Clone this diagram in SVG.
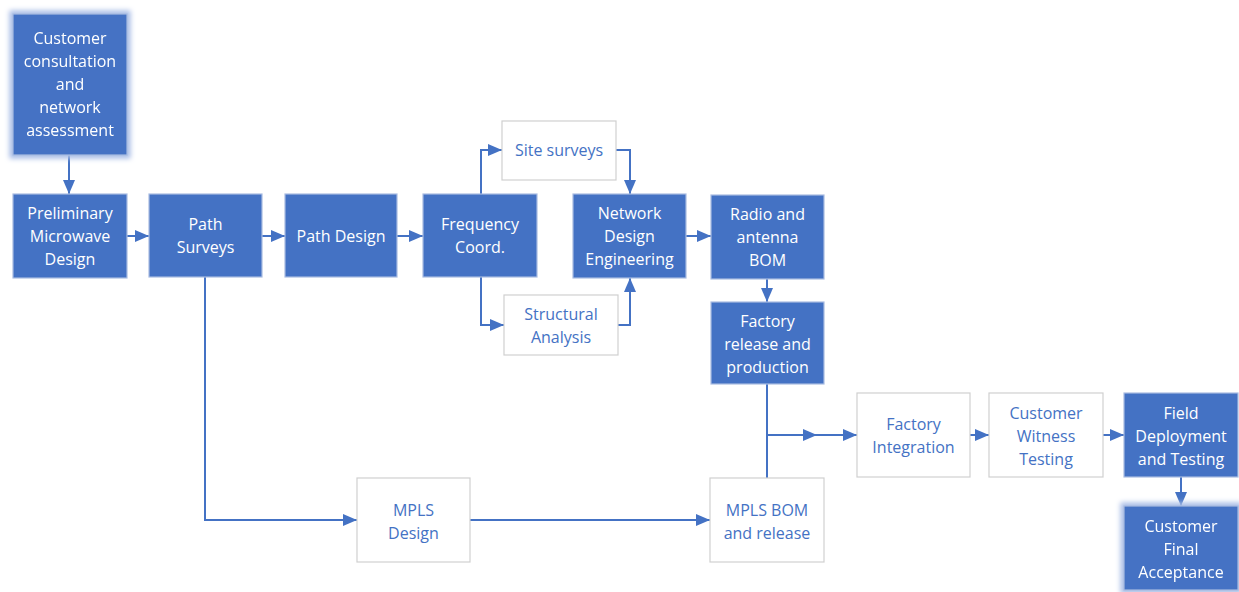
<svg xmlns="http://www.w3.org/2000/svg" width="1239" height="592" viewBox="0 0 1239 592">
<style>
.b{fill:#4472C4;stroke:#A9BCE2;stroke-width:1.2}
.w{fill:#FFFFFF;stroke:#D0D0D0;stroke-width:1.2}
.tb{fill:#FFFFFF;font-family:"Open Sans","Noto Sans",sans-serif;font-size:16px;text-anchor:middle;dominant-baseline:central}
.tw{fill:#4472C4;font-family:"Open Sans","Noto Sans",sans-serif;font-size:16px;text-anchor:middle;dominant-baseline:central}
.c{fill:none;stroke:#4472C4;stroke-width:2}
</style>
<defs>
<marker id="ah" viewBox="0 0 14 12" refX="14" refY="6" markerWidth="14" markerHeight="12" markerUnits="userSpaceOnUse" orient="auto">
<path d="M0,0 L14,6 L0,12 z" fill="#4472C4"/>
</marker>
<filter id="glow" x="-20%" y="-20%" width="140%" height="140%">
<feMorphology in="SourceAlpha" operator="dilate" radius="3" result="d"/>
<feGaussianBlur in="d" stdDeviation="2.5" result="bl"/>
<feFlood flood-color="#A9BDE6" result="f"/>
<feComposite in="f" in2="bl" operator="in" result="g"/>
<feMerge><feMergeNode in="g"/><feMergeNode in="SourceGraphic"/></feMerge>
</filter>
</defs>
<rect width="1239" height="592" fill="#FFFFFF"/>
<g id="connectors">
<path class="c" d="M69,155 V194" marker-end="url(#ah)"/>
<path class="c" d="M127,236 H149" marker-end="url(#ah)"/>
<path class="c" d="M262,236 H285" marker-end="url(#ah)"/>
<path class="c" d="M397,236 H423" marker-end="url(#ah)"/>
<path class="c" d="M481,194 V150 H502" marker-end="url(#ah)"/>
<path class="c" d="M616,150 H630 V194" marker-end="url(#ah)"/>
<path class="c" d="M481,277 V325 H504" marker-end="url(#ah)"/>
<path class="c" d="M618,325 H630 V278" marker-end="url(#ah)"/>
<path class="c" d="M686,236 H711" marker-end="url(#ah)"/>
<path class="c" d="M767,278 V302" marker-end="url(#ah)"/>
<path class="c" d="M205,277 V520 H357" marker-end="url(#ah)"/>
<path class="c" d="M470,520 H710" marker-end="url(#ah)"/>
<path class="c" d="M767,384 V435 H817" marker-end="url(#ah)"/>
<path class="c" d="M767,478 V435"/>
<path class="c" d="M817,435 H857" marker-end="url(#ah)"/>
<path class="c" d="M970,435 H989" marker-end="url(#ah)"/>
<path class="c" d="M1103,435 H1124" marker-end="url(#ah)"/>
<path class="c" d="M1181,477 V506" marker-end="url(#ah)"/>
</g>
<g id="customer-consultation" filter="url(#glow)">
<rect class="b" x="13" y="14" width="114" height="141"/>
<text class="tb" x="70" y="38">Customer</text>
<text class="tb" x="70" y="61">consultation</text>
<text class="tb" x="70" y="84">and</text>
<text class="tb" x="70" y="107">network</text>
<text class="tb" x="70" y="130">assessment</text>
</g>
<g id="preliminary-design">
<rect class="b" x="13" y="194" width="114" height="84"/>
<text class="tb" x="70" y="213">Preliminary</text>
<text class="tb" x="70" y="236">Microwave</text>
<text class="tb" x="70" y="259">Design</text>
</g>
<g id="path-surveys">
<rect class="b" x="149" y="194" width="113" height="83"/>
<text class="tb" x="205.5" y="224">Path</text>
<text class="tb" x="205.5" y="247">Surveys</text>
</g>
<g id="path-design">
<rect class="b" x="285" y="194" width="112" height="83"/>
<text class="tb" x="341" y="236">Path Design</text>
</g>
<g id="frequency-coord">
<rect class="b" x="423" y="194" width="114" height="83"/>
<text class="tb" x="480" y="224">Frequency</text>
<text class="tb" x="480" y="247">Coord.</text>
</g>
<g id="site-surveys">
<rect class="w" x="502" y="121" width="114" height="59"/>
<text class="tw" x="559" y="150">Site surveys</text>
</g>
<g id="structural-analysis">
<rect class="w" x="504" y="295" width="114" height="60"/>
<text class="tw" x="561" y="314">Structural</text>
<text class="tw" x="561" y="337">Analysis</text>
</g>
<g id="network-design">
<rect class="b" x="573" y="194" width="113" height="84"/>
<text class="tb" x="629.5" y="213">Network</text>
<text class="tb" x="629.5" y="236">Design</text>
<text class="tb" x="629.5" y="259">Engineering</text>
</g>
<g id="radio-bom">
<rect class="b" x="711" y="195" width="113" height="84"/>
<text class="tb" x="767.5" y="214">Radio and</text>
<text class="tb" x="767.5" y="237">antenna</text>
<text class="tb" x="767.5" y="260">BOM</text>
</g>
<g id="factory-release">
<rect class="b" x="711" y="302" width="113" height="82"/>
<text class="tb" x="767.5" y="321">Factory</text>
<text class="tb" x="767.5" y="344">release and</text>
<text class="tb" x="767.5" y="367">production</text>
</g>
<g id="mpls-design">
<rect class="w" x="357" y="478" width="113" height="84"/>
<text class="tw" x="413.5" y="510">MPLS</text>
<text class="tw" x="413.5" y="533">Design</text>
</g>
<g id="mpls-bom">
<rect class="w" x="710" y="478" width="114" height="84"/>
<text class="tw" x="767" y="510">MPLS BOM</text>
<text class="tw" x="767" y="533">and release</text>
</g>
<g id="factory-integration">
<rect class="w" x="857" y="393" width="113" height="84"/>
<text class="tw" x="913.5" y="424">Factory</text>
<text class="tw" x="913.5" y="447">Integration</text>
</g>
<g id="customer-witness">
<rect class="w" x="989" y="393" width="114" height="84"/>
<text class="tw" x="1046" y="413">Customer</text>
<text class="tw" x="1046" y="436">Witness</text>
<text class="tw" x="1046" y="459">Testing</text>
</g>
<g id="field-deployment">
<rect class="b" x="1124" y="393" width="114" height="84"/>
<text class="tb" x="1181" y="413">Field</text>
<text class="tb" x="1181" y="436">Deployment</text>
<text class="tb" x="1181" y="459">and Testing</text>
</g>
<g id="customer-final" filter="url(#glow)">
<rect class="b" x="1124" y="506" width="114" height="84"/>
<text class="tb" x="1181" y="526">Customer</text>
<text class="tb" x="1181" y="549">Final</text>
<text class="tb" x="1181" y="572">Acceptance</text>
</g>
</svg>
